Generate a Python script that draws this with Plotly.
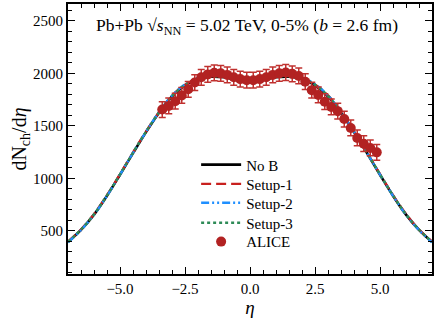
import plotly.graph_objects as go

# Model curves (eta grid and dN/deta values)
eta_model = [-7.0, -6.5, -6.0, -5.5, -5.0, -4.5, -4.0, -3.5, -3.0, -2.5, -2.0, -1.5, -1.0, -0.5, 0.0,
             0.5, 1.0, 1.5, 2.0, 2.5, 3.0, 3.5, 4.0, 4.5, 5.0, 5.5, 6.0, 6.5, 7.0]
no_b = [395, 510, 655, 835, 1035, 1240, 1440, 1625, 1780, 1885, 1945, 1968, 1962, 1935, 1920,
        1935, 1962, 1968, 1945, 1885, 1780, 1625, 1440, 1240, 1035, 835, 655, 510, 395]
setup1 = [398, 514, 660, 840, 1040, 1246, 1446, 1630, 1786, 1892, 1952, 1974, 1968, 1940, 1925,
          1940, 1968, 1976, 1954, 1894, 1790, 1634, 1448, 1246, 1040, 840, 660, 514, 398]
setup2 = [392, 508, 654, 834, 1036, 1242, 1444, 1630, 1788, 1895, 1956, 1980, 1972, 1942, 1926,
          1942, 1974, 1982, 1958, 1897, 1790, 1632, 1444, 1242, 1036, 834, 654, 508, 392]
setup3 = [396, 512, 658, 838, 1038, 1244, 1444, 1628, 1784, 1890, 1950, 1972, 1966, 1938, 1923,
          1938, 1966, 1974, 1952, 1892, 1786, 1630, 1444, 1244, 1038, 838, 658, 512, 396]

# ALICE data
eta_alice = [-3.375, -3.125, -2.875, -2.625, -2.375, -2.125, -1.875, -1.625, -1.375, -1.125,
             -0.875, -0.625, -0.375, -0.125, 0.125, 0.375, 0.625, 0.875, 1.125, 1.375,
             1.625, 1.875, 2.125, 2.375, 2.625, 2.875, 3.125, 3.375, 3.625, 3.875,
             4.125, 4.375, 4.625, 4.875]
alice = [1655, 1690, 1735, 1790, 1848, 1912, 1962, 1990, 2005, 2000,
         1985, 1962, 1945, 1935, 1935, 1945, 1962, 1985, 2000, 2008,
         1995, 1975, 1920, 1840, 1795, 1730, 1680, 1640, 1565, 1480,
         1385, 1330, 1290, 1248]
alice_err = [75] * len(alice)

x_range = [-7.0, 7.0]
y_range = [90, 2660]

serif = "Liberation Serif, Times New Roman, DejaVu Serif, serif"

fig = go.Figure()
fig.add_trace(go.Scatter(x=eta_model, y=no_b, mode="lines", name="No B", legend="legend",
                         line=dict(color="black", width=2.6, shape="spline")))
fig.add_trace(go.Scatter(x=eta_model, y=setup1, mode="lines", name="Setup-1", legend="legend2",
                         line=dict(color="#c8201e", width=2.4, dash="10px,5px", shape="spline")))
fig.add_trace(go.Scatter(x=eta_model, y=setup2, mode="lines", name="Setup-2", legend="legend3",
                         line=dict(color="#1f8fff", width=2.4, dash="8px,3px,2px,3px,2px,3px",
                                   shape="spline")))
fig.add_trace(go.Scatter(x=eta_model, y=setup3, mode="lines", name="Setup-3", legend="legend4",
                         line=dict(color="#2e8b57", width=2.4, dash="3px,3px", shape="spline")))
fig.add_trace(go.Scatter(x=eta_alice, y=alice, mode="markers", name="ALICE", legend="legend5",
                         marker=dict(color="#b22222", size=10),
                         error_y=dict(type="data", array=alice_err, color="#c0302e",
                                      thickness=1.5, width=3.5)))

axis_common = dict(showline=True, linecolor="black", linewidth=2, mirror="allticks",
                   ticks="inside", ticklen=7, tickwidth=1, tickcolor="black",
                   showgrid=False, zeroline=False, automargin=False,
                   tickfont=dict(family=serif, size=15, color="black"))

fig.update_xaxes(range=x_range, tickmode="linear", tick0=0, dtick=2.5, tickformat=".1f",
                 minor=dict(dtick=0.5, tick0=0, ticks="inside", ticklen=4, tickcolor="black"),
                 title=dict(text="<i>η</i>", font=dict(family=serif, size=19, color="black"),
                            standoff=4),
                 **axis_common)
fig.update_yaxes(range=y_range, tickmode="linear", tick0=0, dtick=500,
                 minor=dict(dtick=100, tick0=0, ticks="inside", ticklen=4, tickcolor="black"),
                 title=dict(text="dN<sub>ch</sub>/d<i>η</i>",
                            font=dict(family=serif, size=20, color="black"), standoff=1),
                 **axis_common)

fig.add_annotation(x=0.493, y=0.915, xref="paper", yref="paper", xanchor="center",
                   yanchor="middle", showarrow=False,
                   text="Pb+Pb √<i>s</i><sub>NN</sub> = 5.02 TeV, 0-5% (<i>b</i> = 2.6 fm)",
                   font=dict(family=serif, size=17.5, color="black"))

legend_y = [0.404, 0.333, 0.263, 0.189, 0.119]
legend_style = dict(x=0.352, xanchor="left", yanchor="middle",
                    bgcolor="rgba(0,0,0,0)", borderwidth=0,
                    font=dict(family=serif, size=15, color="black"), itemwidth=40)

fig.update_layout(
    width=436, height=327,
    margin=dict(l=68, r=4, t=4, b=53, autoexpand=False),
    paper_bgcolor="white", plot_bgcolor="white",
    showlegend=True,
    legend=dict(y=legend_y[0], **legend_style),
    legend2=dict(y=legend_y[1], **legend_style),
    legend3=dict(y=legend_y[2], **legend_style),
    legend4=dict(y=legend_y[3], **legend_style),
    legend5=dict(y=legend_y[4], **legend_style),
)

fig.write_html("out.html", config={"displayModeBar": False},
               post_script="document.body.style.margin='0';document.body.style.overflow='hidden';")
